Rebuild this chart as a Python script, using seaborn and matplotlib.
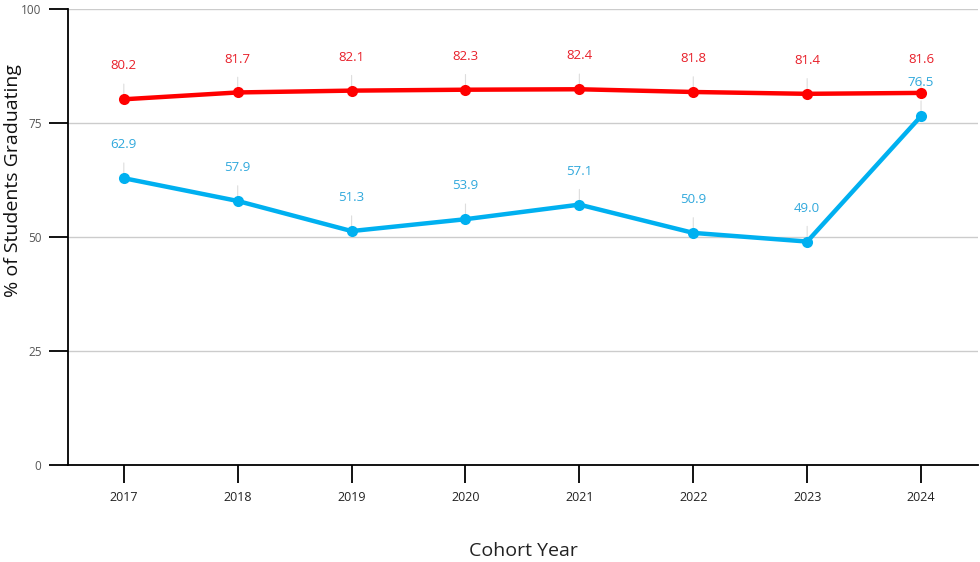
import numpy as np
import pandas as pd
import matplotlib
matplotlib.use("Agg")
import matplotlib.pyplot as plt
import seaborn as sns

# -------------------------
# DATA
# -------------------------
years = ["2017", "2018", "2019", "2020", "2021", "2022", "2023", "2024"]
overall_rate = [80.2, 81.7, 82.1, 82.3, 82.4, 81.8, 81.4, 81.6]
group_rate = [62.9, 57.9, 51.3, 53.9, 57.1, 50.9, 49.0, 76.5]
y_ticks = [0, 25, 50, 75, 100]

RED = "#FF0000"
BLUE = "#00B0F0"
RED_TXT = "#E8202A"
BLUE_TXT = "#2FA8DC"

df = pd.DataFrame({
    "year": years * 2,
    "rate": overall_rate + group_rate,
    "series": ["Overall"] * len(years) + ["Group"] * len(years),
})

sns.set_style("white")
plt.rcParams["font.family"] = ["Open Sans", "DejaVu Sans"]

fig = plt.figure(figsize=(9.8, 5.62), dpi=100)
ax = fig.add_axes([68 / 980, 1 - 465 / 562, 910 / 980, 456 / 562])

sns.lineplot(data=df, x="year", y="rate", hue="series",
             palette={"Overall": RED, "Group": BLUE},
             marker="o", markersize=8, markeredgewidth=0,
             linewidth=3.2, legend=False, ax=ax, zorder=3)

# data labels with thin leader lines
for vals, col in [(overall_rate, RED_TXT), (group_rate, BLUE_TXT)]:
    for i, v in enumerate(vals):
        ax.annotate(f"{v:.1f}", xy=(i, v), xytext=(0, 24),
                    textcoords="offset points", ha="center", va="center",
                    fontsize=9.5, color=col,
                    arrowprops=dict(arrowstyle="-", color="#DDDDDD", lw=0.8,
                                    shrinkA=6, shrinkB=2),
                    zorder=2)

ax.set_xlim(-0.49, 7.5)
ax.set_ylim(0, 100)
ax.set_yticks(y_ticks)
ax.yaxis.grid(True, color="#CCCCCC", linewidth=1)
ax.set_axisbelow(True)

for s in ["top", "right"]:
    ax.spines[s].set_visible(False)
for s in ["left", "bottom"]:
    ax.spines[s].set_color("black")
    ax.spines[s].set_linewidth(1.3)

ax.tick_params(axis="y", direction="out", length=14, width=1.3, color="black",
               labelsize=8.5, labelcolor="#555555", pad=5, left=True)
ax.tick_params(axis="x", direction="out", length=13, width=1.3, color="black",
               labelsize=9, labelcolor="#222222", pad=6, bottom=True)

ax.set_xlabel("Cohort Year", fontsize=14, color="#222222")
ax.set_ylabel("% of Students Graduating", fontsize=14, color="#111111")
ax.xaxis.set_label_coords((523 - 68) / 910, (465 - 551) / 456)
ax.yaxis.set_label_coords((13 - 68) / 910, (465 - 181) / 456)
ax.xaxis.label.set_va("center")
ax.yaxis.label.set_va("center")

fig.savefig("out.png", dpi=100)
